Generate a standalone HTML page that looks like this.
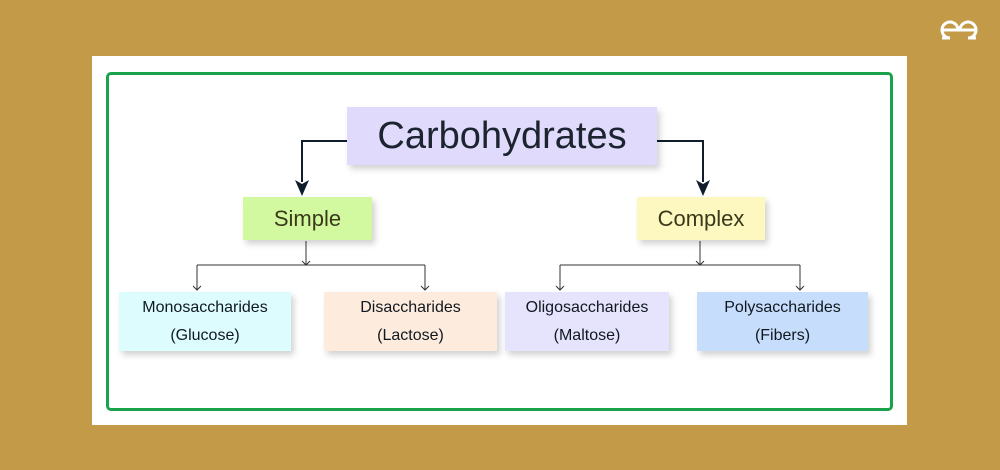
<!DOCTYPE html>
<html><head><style>
body{margin:0;width:1000px;height:470px;overflow:hidden;background:#c29a48;font-family:"Liberation Sans",sans-serif;position:relative}
.panel{position:absolute;left:92px;top:56px;width:815px;height:369px;background:#fff}
.frame{position:absolute;left:106px;top:72px;width:781px;height:333px;border:3px solid #1aa34a;border-radius:5px}
.b{position:absolute;display:flex;flex-direction:column;align-items:center;justify-content:center;color:#1c2430;box-shadow:3px 4px 6px rgba(0,0,0,.18);text-align:center}
.s{font-size:16px;line-height:28px;color:#111820}
</style></head><body>
<div class="panel"></div>
<div class="frame"></div>
<svg width="1000" height="470" style="position:absolute;left:0;top:0">
<g fill="none" stroke="#0f1e2a" stroke-width="2">
<path d="M347 141H302V182"/><path d="M657 141H703V182"/></g>
<path d="M295 180L302 196L309 180L302 184Z" fill="#0f1e2a"/>
<path d="M696 180L703 196L710 180L703 184Z" fill="#0f1e2a"/>
<g fill="none" stroke="#333" stroke-width="1">
<path d="M306 241V265M197 265H425M197 265V290M425 265V290"/>
<path d="M700 241V265M560 265H800M560 265V290M800 265V290"/>
<path d="M302 261L306 265L310 261M193 286L197 290L201 286M421 286L425 290L429 286M696 261L700 265L704 261M556 286L560 290L564 286M796 286L800 290L804 286"/></g>
<g fill="none" stroke="#fff" stroke-width="3">
<path d="M942 30H958A8 8 0 1 0 950 38H942"/>
<path d="M974 30H958A8 8 0 1 1 966 38H974" transform="translate(2 0)"/>
</g>
</svg>
<div class="b" style="left:347px;top:107px;width:310px;height:58px;background:#e0dafc;font-size:38px">Carbohydrates</div>
<div class="b" style="left:243px;top:197px;width:129px;height:43px;background:#d3f9a0;font-size:22px;color:#3a3a1a">Simple</div>
<div class="b" style="left:637px;top:197px;width:128px;height:43px;background:#fdf8c0;font-size:22px;color:#3a3a1a">Complex</div>
<div class="b s" style="left:119px;top:292px;width:172px;height:59px;background:#dcfcfd">Monosaccharides<br>(Glucose)</div>
<div class="b s" style="left:324px;top:292px;width:173px;height:59px;background:#fdebdd">Disaccharides<br>(Lactose)</div>
<div class="b s" style="left:505px;top:292px;width:164px;height:59px;background:#e6e4fc">Oligosaccharides<br>(Maltose)</div>
<div class="b s" style="left:697px;top:292px;width:171px;height:59px;background:#c6ddfb">Polysaccharides<br>(Fibers)</div>
</body></html>
